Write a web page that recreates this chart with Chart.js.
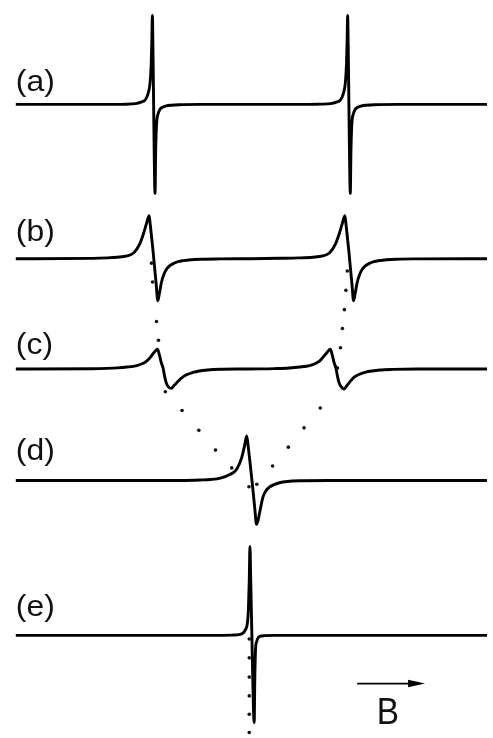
<!DOCTYPE html>
<html>
<head>
<meta charset="utf-8">
<title>EPR spectra</title>
<script src="https://cdn.jsdelivr.net/npm/chart.js@4.4.0/dist/chart.umd.min.js"></script>
<style>
    html, body { margin: 0; padding: 0; background: #fff; }
    #spectra { display: block; }
</style>
</head>
<body>
<canvas id="spectra" width="493" height="738"></canvas>
<script>
// trace labels and their baseline positions (vertical offset, downwards)
const traceLabels = ['(a)', '(b)', '(c)', '(d)', '(e)'];
const baselines = [101.5, 257.5, 369, 481.7, 638.3];
const labelY = [88, 240, 354, 461, 619];

// field positions and derivative signal (up = positive) for each trace
const fieldA = [12, 120, 130, 135, 140, 143, 145, 147, 148.5, 149.6, 150.3, 150.8, 151.5, 152.1, 152.7, 153.5, 154.2, 155.2, 156.5, 158.5, 161, 165, 170, 178, 200,
    300, 318.5, 328.5, 333.5, 338.5, 341.5, 343.5, 345.5, 347, 348.1, 348.8, 349.3, 350, 350.6, 351.2, 352, 352.7, 353.7, 355, 357, 359.5, 363.5, 368.5, 376.5, 400, 491];
const signalA = [0, 0, 0.5, 1, 2.5, 4, 7, 13, 22, 40, 65, 90, 50, 0, -50, -90, -45, -18, -10, -5, -3, -1.5, -0.8, -0.3, 0,
    0, 0.2, 0.5, 1, 2.5, 4, 7, 13, 22, 40, 65, 90, 50, 0, -50, -90, -45, -18, -10, -5, -3, -1.5, -0.8, -0.3, 0, 0];

const fieldB = [12, 90, 105, 115, 125, 132, 138, 142, 145, 147.5, 148.5, 150, 151.5, 153, 154.8, 156.3, 158, 160, 162.5, 165, 168, 172, 177, 182, 190, 200, 220, 250,
    280, 300, 314, 324, 331, 337, 341, 344, 346.5, 347.5, 349, 350.5, 352, 353.8, 355.3, 357, 359, 361.5, 364, 367, 371, 376, 381, 389, 399, 419, 491];
const signalB = [0, 0.3, 0.8, 1.5, 2.8, 6, 15, 26, 36, 43.5, 36, 22, 8, -8, -27, -42.5, -35, -24, -16, -11, -7.5, -5, -3, -2, -1, -0.5, -0.2, 0,
    0.4, 0.8, 1.5, 2.8, 6, 15, 26, 36, 43.5, 36, 22, 8, -8, -27, -42.5, -35, -24, -16, -11, -7.5, -5, -3, -2, -1, -0.5, -0.2, 0];

const fieldC = [12, 90, 105, 115, 125, 135, 141, 145, 148.5, 151.7, 154.5, 156, 158, 160, 161.7, 163.3, 165, 167.5, 170, 173, 176.7, 180, 185, 192, 198.3, 207, 220, 240,
    260, 275, 290, 300.7, 310.7, 316.5, 320.7, 324, 327.4, 330.2, 331.7, 333.7, 335.7, 337.4, 339, 340.7, 343.2, 345.7, 348.7, 352.4, 355.7, 360.7, 367.7, 374, 382, 395, 420, 491];
const signalC = [0, 0.2, 0.6, 1.1, 2, 3.5, 5.5, 8, 11.5, 15.7, 19, 20, 14, 6, 1, -7.5, -14.3, -18.5, -19.5, -16.5, -12.7, -9.5, -6, -3.5, -2, -1, -0.3, 0,
    0.1, 0.4, 1, 2, 3.5, 5.5, 8, 11.5, 15.5, 19, 20, 14, 6, 1, -7.5, -14.3, -18.5, -20.3, -16.5, -12, -8.5, -5.5, -3.2, -2, -1, -0.4, 0, 0];

const fieldD = [12, 180, 200, 210, 220, 230, 236.7, 241.7, 244.5, 246.7, 248.5, 250, 251.5, 253, 254.8, 256.7, 258.3, 260, 263.3, 266.5, 270, 275, 280, 288, 300, 330, 491];
const signalD = [0, 0, 0.5, 1, 2.4, 6.2, 11.7, 23.4, 35, 45, 32, 19, 5, -9, -27, -44.3, -40, -31.6, -16.6, -10, -6.6, -4, -2.3, -1, -0.3, 0, 0];

const fieldE = [12, 215, 232, 240, 245, 247.7, 248.5, 249.3, 250, 250.8, 251.8, 252.8, 253.6, 254.3, 255, 255.8, 256.7, 258, 260, 265, 275, 491];
const signalE = [0, 0, 0.3, 1, 5, 15, 28, 55, 90, 55, 8, -40, -75, -88, -40, -12, -6.7, -3, -1, -0.3, 0, 0];

// dotted guides following the line positions (field, vertical position)
const guideLeft = [[150, 262], [151, 281], [155, 321], [157, 340], [164, 392], [181, 411], [198, 431], [215, 451], [231.5, 469], [249, 488]];
const guideRight = [[349, 270], [347.5, 289.5], [346, 309], [344, 328], [342, 347.5], [339, 368], [321.5, 408.5], [305, 428.5], [289, 448], [273, 467], [257, 485.5]];
const guideBottom = [[249.3, 642], [249.3, 661], [249.3, 680.5], [249.3, 699.5], [249.3, 718], [249.3, 736.5]];

// field arrow and its label
const arrowFrom = [359, 687];
const arrowTo = [428, 687];
const fieldLabel = 'B';

const fields = [fieldA, fieldB, fieldC, fieldD, fieldE];
const signals = [signalA, signalB, signalC, signalD, signalE];

function tracePoints(k) {
    return fields[k].map((x, i) => ({ x: x, y: baselines[k] - signals[k][i] }));
}

function toPoints(list) {
    return list.map(p => ({ x: p[0], y: p[1] }));
}

const datasets = [];
datasets.push({
    data: toPoints(guideLeft.concat(guideRight, guideBottom)),
    showLine: false,
    pointRadius: 1.8,
    pointBackgroundColor: '#111',
    pointBorderWidth: 0,
    clip: false
});
for (let k = 0; k < traceLabels.length; k++) {
    datasets.push({
        label: traceLabels[k],
        data: tracePoints(k),
        showLine: true,
        borderColor: '#000',
        borderWidth: 2.9,
        borderJoinStyle: 'round',
        cubicInterpolationMode: 'monotone',
        pointRadius: 0,
        clip: false
    });
}
datasets.push({
    data: toPoints([arrowFrom, [arrowTo[0] - 10, arrowTo[1]]]),
    showLine: true,
    borderColor: '#000',
    borderWidth: 1.8,
    pointRadius: 0
});

// trace labels, arrow head and field label
const annotations = {
    id: 'annotations',
    afterDatasetsDraw(chart) {
        const ctx = chart.ctx;
        const xs = chart.scales.x;
        const ys = chart.scales.y;
        ctx.save();
        ctx.fillStyle = '#111';
        ctx.textBaseline = 'alphabetic';
        ctx.font = '29px "Liberation Sans", Arial, sans-serif';
        traceLabels.forEach((t, k) => {
            ctx.save();
            ctx.translate(xs.getPixelForValue(12), ys.getPixelForValue(labelY[k]));
            ctx.scale(1.1, 1);
            ctx.fillText(t, 0, 0);
            ctx.restore();
        });

        const tx = xs.getPixelForValue(arrowTo[0]);
        const ty = ys.getPixelForValue(arrowTo[1]);
        ctx.fillStyle = '#000';
        ctx.beginPath();
        ctx.moveTo(tx, ty);
        ctx.lineTo(tx - 17, ty - 3.8);
        ctx.lineTo(tx - 17, ty + 3.8);
        ctx.closePath();
        ctx.fill();

        ctx.save();
        ctx.fillStyle = '#111';
        ctx.font = '37px "Liberation Sans", Arial, sans-serif';
        ctx.translate(xs.getPixelForValue(379), ys.getPixelForValue(728));
        ctx.scale(0.9, 1);
        ctx.fillText(fieldLabel, 0, 0);
        ctx.restore();
        ctx.restore();
    }
};

const spectra = new Chart(document.getElementById('spectra').getContext('2d'), {
    type: 'scatter',
    data: { datasets: datasets },
    options: {
        responsive: false,
        animation: false,
        devicePixelRatio: 1,
        layout: { padding: 0 },
        plugins: {
            legend: { display: false },
            tooltip: { enabled: false }
        },
        scales: {
            x: { type: 'linear', display: false, min: 0, max: 493 },
            y: { type: 'linear', display: false, min: 0, max: 738, reverse: true }
        }
    },
    plugins: [annotations]
});
</script>
</body>
</html>
